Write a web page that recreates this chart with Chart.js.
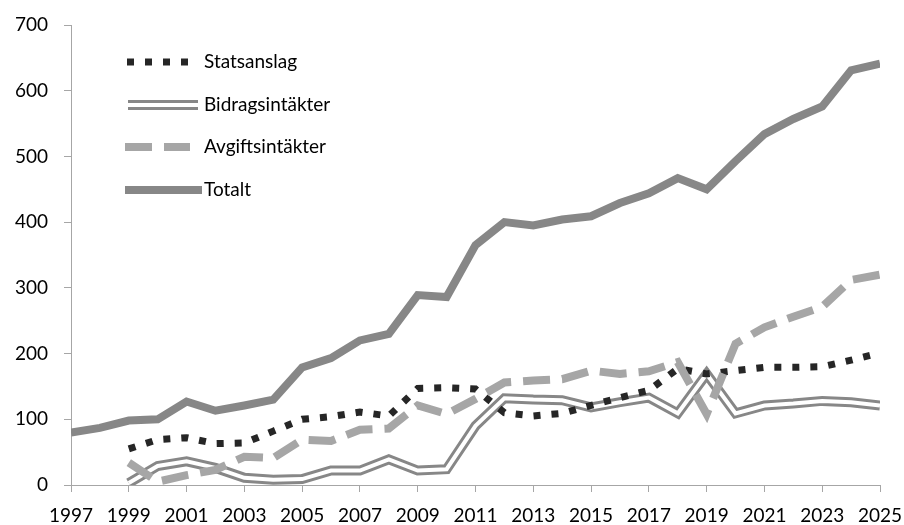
<!DOCTYPE html>
<html>
<head>
<meta charset="utf-8">
<script src="https://cdn.jsdelivr.net/npm/chart.js@4"></script>
<style>
  html, body { margin: 0; padding: 0; background: #fff; }
  #wrap { width: 904px; height: 525px; }
</style>
</head>
<body>
<div id="wrap"><canvas id="chart" width="904" height="525"></canvas></div>
<script>
// Intäkter per år
const years = [1997, 1998, 1999, 2000, 2001, 2002, 2003, 2004, 2005, 2006, 2007, 2008, 2009, 2010,
  2011, 2012, 2013, 2014, 2015, 2016, 2017, 2018, 2019, 2020, 2021, 2022, 2023, 2024, 2025];
const statsanslag = [null, null, 55, 69, 72, 63, 64, 82, 100, 104, 111, 105, 147, 148,
  146, 110, 105, 109, 121, 133, 144, 177, 169, 174, 179, 179, 180, 190, 201];
const bidragsintakter = [null, null, 3, 29, 36, 26, 11, 8, 9, 22, 22, 39, 22, 24,
  90, 132, 130, 129, 118, 126, 133, 109, 169, 109, 121, 124, 128, 126, 121];
const avgiftsintakter = [null, null, 34, 5, 15, 23, 43, 41, 69, 67, 84, 86, 121, 108,
  131, 156, 159, 161, 174, 169, 173, 187, 108, 215, 240, 256, 271, 312, 320];
const totalt = [80, 87, 98, 100, 127, 113, 121, 130, 179, 193, 220, 230, 289, 286,
  365, 400, 395, 404, 409, 429, 444, 467, 450, 493, 534, 557, 576, 631, 641];
const yTicks = [0, 100, 200, 300, 400, 500, 600, 700];

const FONT = { family: 'Lato', size: 19 };
const AXIS = '#A6A6A6';

const pts = arr => years.map((x, i) => ({ x: x, y: arr[i] }));

const line = (label, data, color, width, dash, order) => ({
  label: label, data: pts(data), borderColor: color, borderWidth: width,
  borderDash: dash, borderCapStyle: 'butt', borderJoinStyle: 'miter',
  pointRadius: 0, tension: 0, fill: false, order: order
});

const datasets = [
  line('Statsanslag', statsanslag, '#262626', 7, [7, 11], 2),
  line('Bidragsintäkter', bidragsintakter, '#878787', 10, [], 4),
  line('Bidragsintäkter_inner', bidragsintakter, '#ffffff', 4, [], 3),
  line('Avgiftsintäkter', avgiftsintakter, '#A6A6A6', 8, [27, 12], 1),
  line('Totalt', totalt, '#878787', 8, [], 0)
];

// legend drawn inside the plot, like the original
const legendBox = {
  id: 'legendBox',
  afterDraw(chart) {
    const ctx = chart.ctx;
    const items = [
      { text: 'Statsanslag', sets: [0], x1: 127, x2: 190, y: 62 },
      { text: 'Bidragsintäkter', sets: [1, 2], x1: 128, x2: 198, y: 105 },
      { text: 'Avgiftsintäkter', sets: [3], x1: 125, x2: 190, y: 147 },
      { text: 'Totalt', sets: [4], x1: 125, x2: 202, y: 190 }
    ];
    ctx.save();
    items.forEach(it => {
      it.sets.forEach(i => {
        const ds = chart.data.datasets[i];
        ctx.beginPath();
        ctx.setLineDash(ds.borderDash);
        ctx.lineCap = 'butt';
        ctx.lineWidth = ds.borderWidth;
        ctx.strokeStyle = ds.borderColor;
        ctx.moveTo(it.x1, it.y);
        ctx.lineTo(it.x2, it.y);
        ctx.stroke();
      });
      ctx.setLineDash([]);
      ctx.fillStyle = '#000';
      ctx.font = FONT.size + 'px ' + FONT.family;
      ctx.textBaseline = 'middle';
      ctx.textAlign = 'left';
      ctx.fillText(it.text, 204, it.y);
    });
    ctx.restore();
  }
};

new Chart(document.getElementById('chart'), {
  type: 'line',
  data: { datasets: datasets },
  options: {
    responsive: false,
    animation: false,
    layout: { padding: { top: 25, right: 24, left: 0, bottom: 0 } },
    plugins: { legend: { display: false }, tooltip: { enabled: false } },
    scales: {
      x: {
        type: 'linear', min: years[0], max: years[years.length - 1],
        afterFit: s => { s.height = 40; s.paddingLeft = 0; s.paddingRight = 0; },
        border: { color: AXIS, width: 1 },
        grid: { drawOnChartArea: false, drawTicks: true, tickLength: 7, color: AXIS },
        ticks: {
          stepSize: 2, autoSkip: false, maxRotation: 0, color: '#000', font: FONT, padding: 12,
          callback: v => String(v)
        }
      },
      y: {
        min: yTicks[0], max: yTicks[yTicks.length - 1],
        afterFit: s => { s.width = 71; s.paddingTop = 0; s.paddingBottom = 0; },
        afterBuildTicks: s => { s.ticks = yTicks.map(v => ({ value: v })); },
        border: { color: AXIS, width: 1 },
        grid: { drawOnChartArea: false, drawTicks: true, tickLength: 7, color: AXIS },
        ticks: { color: '#000', font: FONT, padding: 16 }
      }
    }
  },
  plugins: [legendBox]
});
</script>
</body>
</html>
